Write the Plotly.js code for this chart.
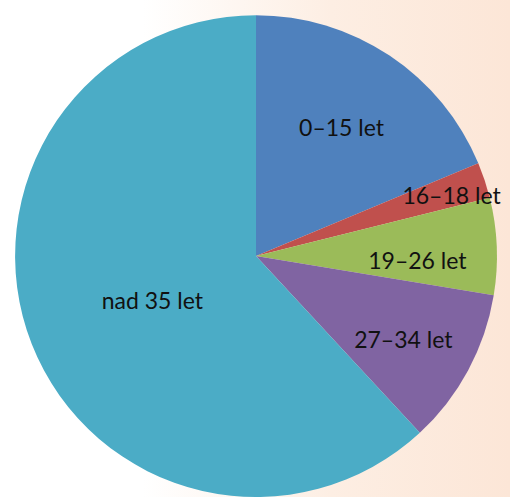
<!DOCTYPE html>
<html>
<head>
<meta charset="utf-8">
<script src="https://cdn.plot.ly/plotly-3.0.1.min.js"></script>
<style>
html,body{margin:0;padding:0;}
#chart{width:510px;height:497px;background:linear-gradient(to right,#ffffff 0%,#ffffff 28%,#fdeee3 65%,#fce6d7 100%);}
</style>
</head>
<body>
<div id="chart"></div>
<script>
const categories = ["0–15 let", "16–18 let", "19–26 let", "27–34 let", "nad 35 let"];
const values = [18.7, 2.4, 6.5, 10.5, 61.9];
const colors = ["#4F81BD", "#C0504D", "#9BBB59", "#8064A2", "#4BACC6"];

// the first label is drawn by the main pie, the others by a transparent overlay pie of the same data
const mainLabels = categories.map((c, i) => i === 0 ? "%{label}" : "");
const overlayLabels = categories.map((c, i) => i === 0 ? "" : "%{label}");

const font = {family: "Lato, sans-serif", size: 23, color: "#111"};

Plotly.newPlot("chart", [{
  type: "pie",
  labels: categories,
  values: values,
  sort: false,
  direction: "clockwise",
  rotation: 0,
  marker: {colors: colors, line: {width: 0}},
  texttemplate: mainLabels,
  textposition: "inside",
  insidetextorientation: "horizontal",
  textfont: font,
  hoverinfo: "label+percent",
  showlegend: false,
  domain: {x: [0.0226, 0.9814], y: [-0.0145, 0.9695]}
}, {
  type: "pie",
  labels: categories,
  values: values,
  sort: false,
  direction: "clockwise",
  rotation: 0,
  marker: {colors: categories.map(() => "rgba(0,0,0,0)"), line: {width: 0}},
  texttemplate: overlayLabels,
  textposition: "inside",
  insidetextorientation: "horizontal",
  textfont: font,
  hoverinfo: "skip",
  showlegend: false,
  domain: {x: [0.0667, 0.9373], y: [0.0303, 0.9237]}
}], {
  width: 510, height: 497,
  margin: {l: 0, r: 0, t: 0, b: 0},
  paper_bgcolor: "rgba(0,0,0,0)",
  plot_bgcolor: "rgba(0,0,0,0)",
  uniformtext: {mode: "show", minsize: 23},
  showlegend: false
}, {displayModeBar: false});
</script>
</body>
</html>
